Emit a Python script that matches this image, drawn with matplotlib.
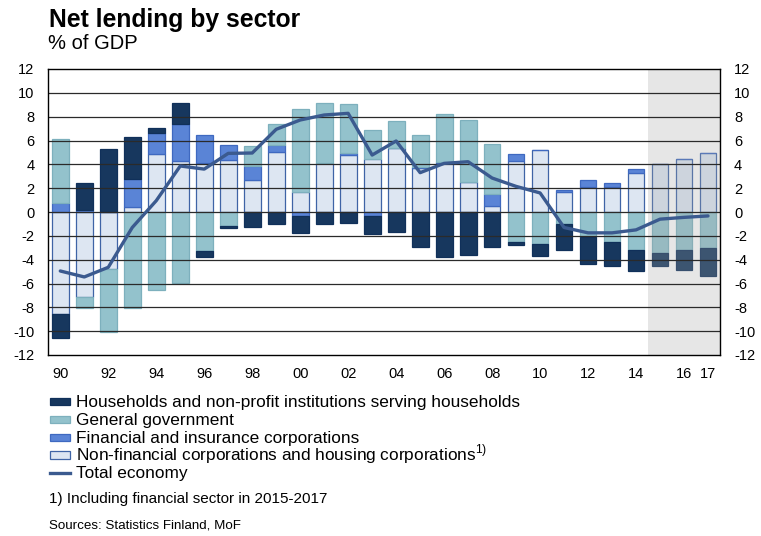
import matplotlib
matplotlib.use("Agg")
import matplotlib.pyplot as plt
from matplotlib.patches import Rectangle
import numpy as np

plt.rcParams["font.family"] = ["Liberation Sans", "DejaVu Sans"]
plt.rcParams["mathtext.fontset"] = "custom"
plt.rcParams["mathtext.rm"] = "Liberation Sans"
plt.rcParams["axes.unicode_minus"] = False

# Net lending by sector, % of GDP
years = list(range(1990, 2018))

non_financial = [-8.56, -7.16, -4.78, 0.45, 4.84, 4.28, 4.08, 4.34, 2.69, 5.06,
                 1.71, 4.14, 4.81, 4.42, 5.40, 3.66, 4.08, 2.55, 0.53, 4.31,
                 5.20, 1.65, 2.08, 2.10, 3.30, 4.00, 4.42, 4.92]
financial = [0.73, 0.17, 0.00, 2.35, 1.76, 3.08, 2.35, 1.29, 1.17, 0.56,
             -0.34, 0.00, 0.14, -0.34, 0.00, 0.14, 0.14, 0.00, 0.96, 0.53,
             0.00, 0.17, 0.57, 0.30, 0.28, 0.00, 0.00, 0.00]
government = [5.37, -0.92, -5.31, -8.08, -6.52, -5.96, -3.24, -1.17, 1.68, 1.73,
              6.90, 5.03, 4.12, 2.46, 2.24, 2.63, 3.97, 5.17, 4.20, -2.50,
              -2.66, -1.00, -2.10, -2.52, -3.15, -3.41, -3.19, -3.05]
households = [-2.04, 2.29, 5.29, 3.52, 0.42, 1.76, -0.50, -0.14, -1.29, -1.00,
              -1.45, -1.00, -0.90, -1.48, -1.65, -2.97, -3.75, -3.58, -2.92, -0.30,
              -1.04, -2.20, -2.26, -2.02, -1.80, -1.15, -1.70, -2.30]
total_economy = [-4.95, -5.45, -4.64, -1.30, 0.95, 3.86, 3.60, 4.92, 4.95, 6.94,
                 7.72, 8.14, 8.28, 4.78, 5.96, 3.30, 4.08, 4.22, 2.85, 2.15,
                 1.60, -1.30, -1.75, -1.75, -1.50, -0.60, -0.45, -0.33]

xtick_years = [1990, 1992, 1994, 1996, 1998, 2000, 2002, 2004, 2006, 2008,
               2010, 2012, 2014, 2016, 2017]
xtick_labels = ["90", "92", "94", "96", "98", "00", "02", "04", "06", "08",
                "10", "12", "14", "16", "17"]
yticks = list(range(-12, 13, 2))
forecast_start = 2014.5

labels = ["Households and non-profit institutions serving households",
          "General government",
          "Financial and insurance corporations",
          "Non-financial corporations and housing corporations$^{1)}$",
          "Total economy"]

c_hh, e_hh = "#17375e", "#10305a"
c_gov, e_gov = "#93c2cc", "#7db0bd"
c_fin, e_fin = "#5a84d6", "#3f69c0"
c_nf, e_nf = "#dde6f2", "#3f64a6"
c_line = "#3b5a8f"

W, H = 761, 536
fig = plt.figure(figsize=(W / 100, H / 100), dpi=100)
ax_l, ax_r, ax_t, ax_b = 48.3, 720.0, 69.0, 355.0
ax = fig.add_axes([ax_l / W, 1 - ax_b / H, (ax_r - ax_l) / W, (ax_b - ax_t) / H])

x = np.array(years, dtype=float)
pos_base = np.zeros(len(x))
neg_base = np.zeros(len(x))
for vals, fc, ec in [(non_financial, c_nf, e_nf), (financial, c_fin, e_fin),
                     (government, c_gov, e_gov), (households, c_hh, e_hh)]:
    v = np.array(vals)
    bottom = np.where(v >= 0, pos_base, neg_base)
    ax.bar(x, v, bottom=bottom, width=0.7, color=fc, edgecolor=ec,
           linewidth=0.9, zorder=2)
    pos_base = pos_base + np.where(v > 0, v, 0)
    neg_base = neg_base + np.where(v < 0, v, 0)

# forecast period shading (drawn over the bars)
ax.axvspan(forecast_start, 2017.5, facecolor=(0.64, 0.65, 0.65), alpha=0.27,
           edgecolor="none", zorder=2.5)

for yv in range(-10, 11, 2):
    ax.axhline(yv, color="#2a2a2a", linewidth=0.9, zorder=3)

ax.plot(x, total_economy, color=c_line, linewidth=2.4, zorder=4,
        solid_capstyle="round", solid_joinstyle="round")

ax.set_xlim(1989.5, 2017.5)
ax.set_ylim(-12, 12)
ax.set_yticks(yticks)
ax.set_xticks(xtick_years)
ax.set_xticklabels(xtick_labels)
ax.tick_params(axis="both", length=0, labelsize=10.5, colors="black")
ax.tick_params(axis="x", pad=9)
ax.tick_params(axis="y", pad=10, labelright=True, right=False)
for s in ax.spines.values():
    s.set_color("black")
    s.set_linewidth(1.0)
    s.set_zorder(5)


def fy(py):
    return 1 - py / H


fig.text(49 / W, fy(27), "Net lending by sector", fontsize=17.8,
         fontweight="bold", va="baseline", ha="left")
fig.text(48 / W, fy(49), "% of GDP", fontsize=14.5, va="baseline", ha="left")

# legend
row_base = [406.7, 424.6, 442.5, 460.4, 478.3]
handles = [(c_hh, e_hh), (c_gov, e_gov), (c_fin, e_fin), (c_nf, e_nf)]
for i, lab in enumerate(labels):
    yb = row_base[i]
    if i < 4:
        fc, ec = handles[i]
        fig.patches.append(Rectangle((50 / W, fy(yb - 1.5)), 20 / W, 7.5 / H,
                                     transform=fig.transFigure, facecolor=fc,
                                     edgecolor=ec, linewidth=0.9))
    else:
        fig.lines.append(plt.Line2D([50 / W, 70 / W], [fy(yb - 5), fy(yb - 5)],
                                    transform=fig.transFigure, color=c_line,
                                    linewidth=2.4))
    fig.text(76 / W, fy(yb), lab, fontsize=12.4, va="baseline", ha="left")

fig.text(49 / W, fy(502.7), "1) Including financial sector in 2015-2017",
         fontsize=11, va="baseline", ha="left")
fig.text(49 / W, fy(529), "Sources: Statistics Finland, MoF",
         fontsize=9.6, va="baseline", ha="left")

fig.savefig("out.png", dpi=100)
